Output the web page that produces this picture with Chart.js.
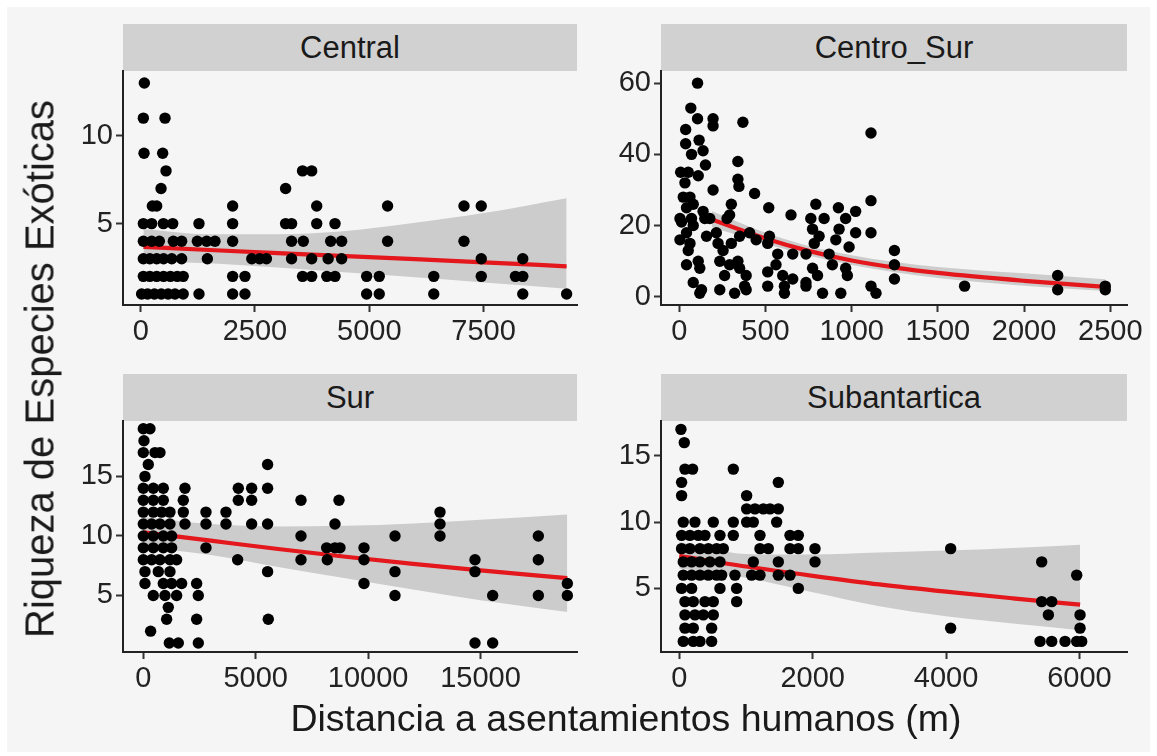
<!DOCTYPE html>
<html>
<head>
<meta charset="utf-8">
<script src="https://cdn.jsdelivr.net/npm/chart.js@4.4.1/dist/chart.umd.min.js"></script>
<style>
body { margin: 0; background: #fff; overflow: hidden; font-family: 'Liberation Sans', Arial, sans-serif; }
#bg { position: absolute; left: 7px; top: 7px; width: 1143px; height: 745px; background: #f5f5f5; }
.strip { position: absolute; height: 47px; background: #d1d1d1; color: #1a1a1a; font-size: 31px;
         display: flex; align-items: center; justify-content: center; }
canvas { position: absolute; }
.title { position: absolute; color: #1a1a1a; white-space: nowrap; transform-origin: center; }
</style>
</head>
<body>
<div id="bg"></div>

<div class="strip" style="left:123px; top:24px; width:454px;">Central</div>
<div class="strip" style="left:661px; top:24px; width:466px;">Centro_Sur</div>
<div class="strip" style="left:123px; top:374px; width:454px;">Sur</div>
<div class="strip" style="left:661px; top:374px; width:466px;">Subantartica</div>

<canvas id="c1"></canvas>
<canvas id="c2"></canvas>
<canvas id="c3"></canvas>
<canvas id="c4"></canvas>

<div class="title" style="left:40px; top:369px; font-size:40px; transform: translate(-50%, -50%) rotate(-90deg);">Riqueza de Especies Exóticas</div>
<div class="title" style="left:626px; top:718px; font-size:37.5px; transform: translate(-50%, -50%);">Distancia a asentamientos humanos (m)</div>

<script>
// [distancia (m), riqueza]
const centralPts = [
  [80,13],[58,11],[532,11],[73,9],[481,9],[554,8],[3540,8],[3740,8],[445,7],[3170,7],
  [255,6],[350,6],[2011,6],[3850,6],
  [58,5],[240,5],[496,5],[700,5],[1275,5],[2011,5],[3170,5],[3300,5],[3850,5],[4250,5],
  [58,4],[240,4],[408,4],[714,4],[896,4],[1239,4],[1443,4],[1625,4],[2011,4],[3300,4],[3557,4],[4155,4],[4395,4],
  [58,3],[200,3],[350,3],[500,3],[680,3],[896,3],[1458,3],[2430,3],[2600,3],[2750,3],[3300,3],[3740,3],[4100,3],[4395,3],
  [58,2],[200,2],[350,2],[500,2],[650,2],[800,2],[930,2],[2011,2],[2281,2],[3540,2],[3740,2],[4070,2],[4250,2],
  [20,1],[150,1],[300,1],[450,1],[600,1],[750,1],[930,1],[1275,1],[2011,1],[2281,1],
  [5400,6],[7071,6],[7449,6],[5400,4],[7071,4],[7449,3],[8357,3],
  [4942,2],[5218,2],[6410,2],[7449,2],[8197,2],[8357,2],
  [4942,1],[5218,1],[6410,1],[8357,1],[9316,1]
];
const centroSurPts = [
  [106,60],[67,53],[106,50],[196,50],[196,48],[369,49],[37,47],[37,43],[115,44],[71,40],
  [138,41],[152,37],[340,38],[8,35],[52,35],[110,34],[340,33],[346,31],[196,30],[33,32],
  [437,29],[62,28],[23,28],[42,25],[519,25],[648,23],[792,26],[923,25],[1023,24],[302,26],
  [292,23],[277,22],[4,22],[71,22],[148,22],[763,22],[840,22],[965,22],[4,16],[42,18],
  [62,15],[81,20],[13,21],[81,26],[138,24],[177,22],[158,17],[215,18],[225,15],[254,13],
  [302,15],[350,17],[408,18],[446,16],[513,15],[523,17],[571,12],[658,12],[735,12],[783,15],
  [811,17],[773,19],[869,12],[908,16],[927,19],[985,14],[1023,18],[52,13],[42,9],[110,10],
  [119,8],[235,10],[292,9],[340,10],[350,8],[263,6],[388,6],[513,7],[561,9],[600,6],
  [658,5],[735,4],[773,8],[802,6],[888,9],[965,8],[975,6],[81,4],[129,2],[119,1],
  [235,2],[321,1],[379,3],[388,2],[513,3],[610,3],[610,1],[735,3],[831,1],[937,1],
  [1112,46],[1112,27],[1112,18],[1248,13],[1248,9],[1248,5],[1112,3],[1141,1],[1655,3],
  [2195,6],[2195,2],[2471,3],[2471,2]
];
const surPts = [
  [0,19],[297,19],[30,18],[0,17],[519,17],[742,17],[222,16],[5530,16],[74,15],
  [0,14],[445,14],[890,14],[1854,14],[4227,14],[4820,14],[5530,14],
  [0,13],[445,13],[890,13],[1780,13],[4227,13],[4820,13],[7015,13],[8705,13],
  [0,12],[445,12],[816,12],[1186,12],[1780,12],[2788,12],[3678,12],[13200,12],
  [0,11],[371,11],[742,11],[1186,11],[1854,11],[2788,11],[3678,11],[4820,11],[5530,11],[8527,11],[13200,11],
  [0,10],[445,10],[890,10],[1260,10],[7015,10],[11197,10],[13200,10],[17574,10],
  [0,9],[445,9],[890,9],[1260,9],[2788,9],[8157,9],[8527,9],[8750,9],[9818,9],
  [0,8],[371,8],[742,8],[1186,8],[1483,8],[4197,8],[7015,8],[8186,8],[9818,8],[14756,8],[17574,8],
  [74,7],[667,7],[1186,7],[5530,7],[11197,7],[14756,7],
  [74,6],[890,6],[1260,6],[1705,6],[2373,6],[9818,6],[18864,6],
  [445,5],[964,5],[1483,5],[2447,5],[11197,5],[15542,5],[17574,5],[18864,5],
  [1112,4],[1038,3],[2373,3],[5560,3],[326,2],
  [1157,1],[1557,1],[2447,1],[14756,1],[15542,1]
];
const subantPts = [
  [25,17],[75,16],[85,14],[200,14],[810,14],[35,13],[1485,13],[35,12],[1010,12],
  [1010,11],[1135,11],[1260,11],[1360,11],[1485,11],
  [60,10],[235,10],[510,10],[810,10],[1010,10],[1110,10],[1460,10],
  [35,9],[160,9],[285,9],[385,9],[610,9],[810,9],[1210,9],[1660,9],[1785,9],
  [35,8],[160,8],[310,8],[435,8],[560,8],[660,8],[1210,8],[1335,8],[1660,8],[1785,8],[2035,8],[4069,8],
  [60,7],[185,7],[310,7],[460,7],[610,7],[1110,7],[1485,7],[2035,7],[5434,7],
  [60,6],[185,6],[310,6],[435,6],[560,6],[635,6],[835,6],[1085,6],[1210,6],[1485,6],[1660,6],[5959,6],
  [35,5],[185,5],[610,5],[860,5],[1785,5],
  [85,4],[210,4],[385,4],[510,4],[860,4],[5434,4],[5584,4],
  [85,3],[235,3],[360,3],[510,3],[5534,3],[6009,3],
  [85,2],[210,2],[485,2],[4069,2],[6009,2],
  [60,1],[210,1],[310,1],[485,1],[5409,1],[5584,1],[5784,1],[5959,1],[6034,1]
];

// ajuste (linea roja) e intervalo de confianza
const centralFitX = [60, 1500, 3000, 4360, 6000, 7500, 9316];
const centralFit  = [3.68, 3.5, 3.32, 3.17, 2.98, 2.8, 2.57];
const centralLow  = [2.85, 2.75, 2.5, 2.25, 1.95, 1.65, 1.3];
const centralHigh = [4.7, 4.4, 4.4, 4.55, 5.05, 5.6, 6.45];

const centroSurFitX = [190, 500, 750, 1000, 1250, 1500, 2000, 2471];
const centroSurFit  = [21.7, 16.4, 12.9, 10.2, 8.2, 6.7, 4.5, 2.8];
const centroSurLow  = [19.5, 14.9, 11.6, 8.9, 6.9, 5.3, 3.1, 1.6];
const centroSurHigh = [24, 18, 14.3, 11.7, 9.8, 8.4, 6.6, 4.9];

const surFitX = [0, 3000, 6000, 9000, 12000, 15000, 18861];
const surFit  = [10.3, 9.6, 8.9, 8.25, 7.65, 7.1, 6.45];
const surLow  = [9.1, 8.4, 7.4, 6.45, 5.5, 4.6, 3.6];
const surHigh = [11.6, 11.0, 10.8, 10.85, 11.05, 11.35, 11.8];

const subantFitX = [0, 1000, 2000, 3000, 4000, 5000, 6010];
const subantFit  = [7.45, 6.65, 5.95, 5.3, 4.75, 4.25, 3.77];
const subantLow  = [6.5, 5.8, 4.7, 3.65, 2.9, 2.35, 1.85];
const subantHigh = [8.5, 7.6, 7.55, 7.7, 7.85, 8.05, 8.3];

// ticks
const centralXTicks = [0, 2500, 5000, 7500];
const centralYTicks = [5, 10];
const centroSurXTicks = [0, 500, 1000, 1500, 2000, 2500];
const centroSurYTicks = [0, 20, 40, 60];
const surXTicks = [0, 5000, 10000, 15000];
const surYTicks = [5, 10, 15];
const subantXTicks = [0, 2000, 4000, 6000];
const subantYTicks = [5, 10, 15];

Chart.defaults.font.family = "'Liberation Sans', Arial, sans-serif";

const Y_W = 100, X_H = 50, PAD_T = 20, PAD_R = 29;

function toXY(xs, ys) {
  return xs.map((x, i) => ({ x: x, y: ys[i] }));
}

function axis(min, max, tickVals, isX) {
  return {
    type: 'linear',
    min: min,
    max: max,
    afterBuildTicks: s => { s.ticks = tickVals.map(v => ({ value: v })); },
    afterFit: s => { if (isX) s.height = X_H; else s.width = Y_W; },
    ticks: {
      autoSkip: false,
      maxRotation: 0,
      padding: 3,
      color: '#222',
      font: { size: 29 },
      callback: v => String(v)
    },
    grid: {
      display: true,
      drawOnChartArea: false,
      drawTicks: true,
      tickLength: 7,
      tickWidth: 2,
      tickColor: '#333'
    },
    border: { display: true, color: '#222', width: 2 }
  };
}

function makePanel(id, geo, pts, fitX, fit, low, high, xt, yt) {
  const cv = document.getElementById(id);
  cv.width = Y_W + geo.w + PAD_R;
  cv.height = PAD_T + geo.h + X_H;
  cv.style.left = (geo.left - Y_W) + 'px';
  cv.style.top = (geo.top - PAD_T) + 'px';

  new Chart(cv, {
    type: 'scatter',
    data: {
      datasets: [{
        data: pts.map(p => ({ x: p[0], y: p[1] })),
        backgroundColor: '#000',
        borderColor: '#000',
        pointRadius: 5.7,
        pointBorderWidth: 0,
        order: 0
      }, {
        type: 'line',
        data: toXY(fitX, fit),
        borderColor: '#e3171c',
        borderWidth: 4.2,
        pointRadius: 0,
        cubicInterpolationMode: 'monotone',
        fill: false,
        order: 1
      }, {
        type: 'line',
        data: toXY(fitX, high),
        borderWidth: 0,
        pointRadius: 0,
        cubicInterpolationMode: 'monotone',
        backgroundColor: '#cccccc',
        fill: '+1',
        order: 2
      }, {
        type: 'line',
        data: toXY(fitX, low),
        borderWidth: 0,
        pointRadius: 0,
        cubicInterpolationMode: 'monotone',
        fill: false,
        order: 3
      }]
    },
    options: {
      responsive: false,
      animation: false,
      events: [],
      layout: { padding: { left: 0, top: PAD_T, right: PAD_R, bottom: 0 } },
      plugins: { legend: { display: false }, tooltip: { enabled: false } },
      scales: {
        x: axis(geo.xmin, geo.xmax, xt, true),
        y: axis(geo.ymin, geo.ymax, yt, false)
      }
    }
  });
}

makePanel('c1', { left: 123, top: 71, w: 454, h: 234, xmin: -387, xmax: 9543, ymin: 0.37, ymax: 13.66 },
  centralPts, centralFitX, centralFit, centralLow, centralHigh, centralXTicks, centralYTicks);
makePanel('c2', { left: 661, top: 71, w: 466, h: 234, xmin: -106, xmax: 2597, ymin: -2.3, ymax: 63.3 },
  centroSurPts, centroSurFitX, centroSurFit, centroSurLow, centroSurHigh, centroSurXTicks, centroSurYTicks);
makePanel('c3', { left: 123, top: 421, w: 454, h: 231, xmin: -903, xmax: 19294, ymin: 0.25, ymax: 19.62 },
  surPts, surFitX, surFit, surLow, surHigh, surXTicks, surYTicks);
makePanel('c4', { left: 661, top: 421, w: 466, h: 231, xmin: -274, xmax: 6713, ymin: 0.2, ymax: 17.6 },
  subantPts, subantFitX, subantFit, subantLow, subantHigh, subantXTicks, subantYTicks);
</script>
</body>
</html>
